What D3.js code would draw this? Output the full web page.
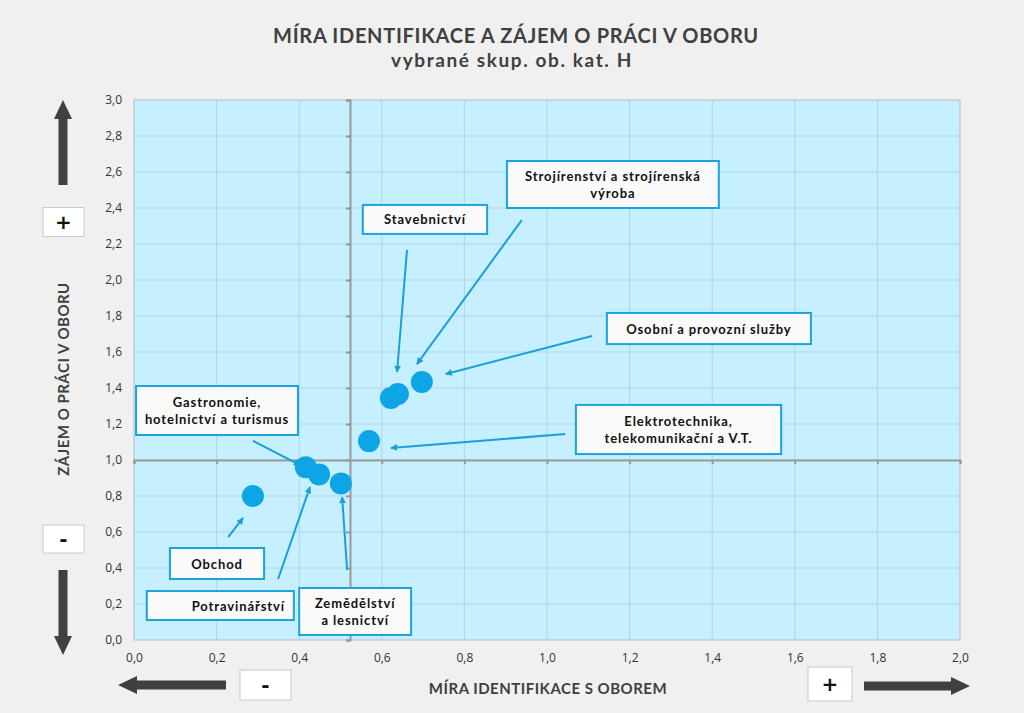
<!DOCTYPE html>
<html>
<head>
<meta charset="utf-8">
<script src="https://cdn.jsdelivr.net/npm/d3@7"></script>
<style>
  body { margin: 0; background: #f0f0f0; }
  svg { display: block; }
  .tick text { font-family: "Open Sans", sans-serif; font-size: 12px; fill: #333; }
  .title { font-family: Lato, sans-serif; font-weight: bold; fill: #404040; }
  .lbl { font-family: Lato, sans-serif; font-weight: bold; font-size: 13px; fill: #111; letter-spacing: 0.9px; }
</style>
</head>
<body>
<div id="chart"></div>
<script>
// data
const sectors = ['Obchod', 'Gastronomie', 'Potravinářství', 'Zemědělství', 'Elektrotechnika', 'Stavebnictví', 'Strojírenství', 'Osobní služby'];
const identification = [0.288, 0.416, 0.448, 0.501, 0.569, 0.622, 0.639, 0.697];
const interest = [0.80, 0.96, 0.92, 0.87, 1.105, 1.344, 1.367, 1.433];

const xTicks = [0, 0.2, 0.4, 0.6, 0.8, 1.0, 1.2, 1.4, 1.6, 1.8, 2.0];
const yTicks = [0, 0.2, 0.4, 0.6, 0.8, 1.0, 1.2, 1.4, 1.6, 1.8, 2.0, 2.2, 2.4, 2.6, 2.8, 3.0];
const refX = 0.523, refY = 1.0;

// callouts: text lines, box (x0, y0, x1, y1) and arrow (from -> to), in data units
const labels = [
    {lines: ['Stavebnictví'], box: [0.554, 2.417, 0.855, 2.256], dx: 0, from: [0.661, 2.167], to: [0.637, 1.489]},
    {lines: ['Strojírenství a strojírenská', 'výroba'], box: [0.903, 2.661, 1.416, 2.400], dx: 0, from: [0.939, 2.333], to: [0.685, 1.533]},
    {lines: ['Osobní a provozní služby'], box: [1.145, 1.817, 1.639, 1.644], dx: 0, from: [1.109, 1.689], to: [0.755, 1.478]},
    {lines: ['Elektrotechnika,', 'telekomunikační a V.T.'], box: [1.070, 1.306, 1.567, 1.033], dx: 0, from: [1.044, 1.144], to: [0.622, 1.067]},
    {lines: ['Gastronomie,', 'hotelnictví a turismus'], box: [0.005, 1.411, 0.397, 1.139], dx: 0, from: [0.288, 1.106], to: [0.402, 0.972]},
    {lines: ['Obchod'], box: [0.087, 0.511, 0.315, 0.339], dx: 0, from: [0.228, 0.572], to: [0.264, 0.678]},
    {lines: ['Potravinářství'], box: [0.031, 0.272, 0.387, 0.111], dx: 18, from: [0.349, 0.339], to: [0.426, 0.850]},
    {lines: ['Zemědělství', 'a lesnictví'], box: [0.400, 0.289, 0.671, 0.028], dx: 0, from: [0.516, 0.389], to: [0.504, 0.794]}
];

const width = 1024, height = 713;
const margin = {left: 134, right: 64, top: 100, bottom: 73};

const svg = d3.select('#chart').append('svg')
    .attr('width', width)
    .attr('height', height);

const x = d3.scaleLinear().domain([0, 2]).range([margin.left, width - margin.right]);
const y = d3.scaleLinear().domain([0, 3]).range([height - margin.bottom, margin.top]);

svg.append('defs').append('marker')
    .attr('id', 'head')
    .attr('viewBox', '0 0 10 10')
    .attr('refX', 9).attr('refY', 5)
    .attr('markerWidth', 7).attr('markerHeight', 7)
    .attr('markerUnits', 'userSpaceOnUse')
    .attr('orient', 'auto')
    .append('path')
    .attr('d', 'M0,0 L10,5 L0,10 z')
    .attr('fill', '#1a9fd8');

// titles
svg.append('text').attr('class', 'title')
    .attr('x', 516).attr('y', 43)
    .attr('text-anchor', 'middle').attr('font-size', 20)
    .attr('letter-spacing', 0.7)
    .text('MÍRA IDENTIFIKACE A ZÁJEM O PRÁCI V OBORU');
svg.append('text').attr('class', 'title')
    .attr('x', 512).attr('y', 67)
    .attr('text-anchor', 'middle').attr('font-size', 19)
    .attr('letter-spacing', 1.6)
    .text('vybrané skup. ob. kat. H');

// plot area
svg.append('rect')
    .attr('x', x(0)).attr('y', y(3))
    .attr('width', x(2) - x(0)).attr('height', y(0) - y(3))
    .attr('fill', '#c6efff');

svg.append('g').selectAll('line').data(xTicks.slice(1, -1)).enter().append('line')
    .attr('x1', d => x(d)).attr('x2', d => x(d))
    .attr('y1', y(0)).attr('y2', y(3))
    .attr('stroke', '#add6e2').attr('stroke-width', 1);
svg.append('g').selectAll('line').data(yTicks.slice(1, -1)).enter().append('line')
    .attr('x1', x(0)).attr('x2', x(2))
    .attr('y1', d => y(d)).attr('y2', d => y(d))
    .attr('stroke', '#add6e2').attr('stroke-width', 1);

svg.append('rect')
    .attr('x', x(0)).attr('y', y(3))
    .attr('width', x(2) - x(0)).attr('height', y(0) - y(3))
    .attr('fill', 'none').attr('stroke', '#b4bcc0');

// reference lines with small ticks
let fmt = d3.format('.1f');
let comma = d => fmt(d).replace('.', ',');

svg.append('g')
    .attr('transform', `translate(${x(refX)},0)`)
    .call(d3.axisLeft(y).tickValues(yTicks).tickSize(4).tickFormat(''))
    .call(g => g.selectAll('line,path').attr('stroke', '#999').attr('stroke-width', 2));
svg.append('g')
    .attr('transform', `translate(0,${y(refY)})`)
    .call(d3.axisBottom(x).tickValues(xTicks).tickSize(4).tickFormat(''))
    .call(g => g.selectAll('line,path').attr('stroke', '#999').attr('stroke-width', 2));

// axis labels
svg.append('g')
    .attr('transform', `translate(${x(0)},0)`)
    .call(d3.axisLeft(y).tickValues(yTicks).tickSize(0).tickPadding(12).tickFormat(comma))
    .call(g => g.select('.domain').remove());
svg.append('g')
    .attr('transform', `translate(0,${y(0)})`)
    .call(d3.axisBottom(x).tickValues(xTicks).tickSize(0).tickPadding(13).tickFormat(comma))
    .call(g => g.select('.domain').remove());

svg.append('text').attr('class', 'title')
    .attr('x', 548).attr('y', 694)
    .attr('text-anchor', 'middle').attr('font-size', 15)
    .attr('letter-spacing', 0.5)
    .text('MÍRA IDENTIFIKACE S OBOREM');
svg.append('text').attr('class', 'title')
    .attr('transform', `translate(69,379) rotate(-90)`)
    .attr('text-anchor', 'middle').attr('font-size', 15)
    .attr('letter-spacing', 0.5)
    .text('ZÁJEM O PRÁCI V OBORU');

// direction arrows and +/- boxes
const dark = '#404040';
function blockArrow(x1, y1, x2, y2) {
    let len = Math.hypot(x2 - x1, y2 - y1), a = Math.atan2(y2 - y1, x2 - x1) * 180 / Math.PI;
    let hl = 19, sw = 4.5, hw = 9;
    svg.append('path')
        .attr('transform', `translate(${x1},${y1}) rotate(${a})`)
        .attr('d', `M0,${-sw} L${len - hl},${-sw} L${len - hl},${-hw} L${len},0 L${len - hl},${hw} L${len - hl},${sw} L0,${sw} Z`)
        .attr('fill', dark);
}
blockArrow(63, 185, 63, 100);
blockArrow(63, 570, 63, 655);
blockArrow(226, 685, 118, 685);
blockArrow(864, 686, 970, 686);

function signBox(cx, cy, w, h, s) {
    svg.append('rect')
        .attr('x', cx - w / 2).attr('y', cy - h / 2)
        .attr('width', w).attr('height', h)
        .attr('fill', '#fff').attr('stroke', '#c8c8c8');
    svg.append('text')
        .attr('x', cx).attr('y', cy + 7)
        .attr('text-anchor', 'middle')
        .attr('font-family', 'DejaVu Sans, sans-serif').attr('font-weight', 'bold').attr('font-size', 20)
        .attr('fill', '#111')
        .text(s);
}
signBox(63.5, 222, 41, 29, '+');
signBox(63.5, 539, 41, 28, '-');
signBox(265.5, 685, 51, 30, '-');
signBox(830, 684, 44, 34, '+');

// callout arrows
svg.append('g').selectAll('line').data(labels).enter().append('line')
    .attr('x1', d => x(d.from[0])).attr('y1', d => y(d.from[1]))
    .attr('x2', d => x(d.to[0])).attr('y2', d => y(d.to[1]))
    .attr('stroke', '#1a9fd8').attr('stroke-width', 2)
    .attr('marker-end', 'url(#head)');

// points
svg.append('g').selectAll('circle').data(sectors).enter().append('circle')
    .attr('cx', (d, i) => x(identification[i]))
    .attr('cy', (d, i) => y(interest[i]))
    .attr('r', 11)
    .attr('fill', '#0ea5e6');

// callout boxes
let boxes = svg.append('g').selectAll('g').data(labels).enter().append('g');
boxes.append('rect')
    .attr('x', d => x(d.box[0])).attr('y', d => y(d.box[1]))
    .attr('width', d => x(d.box[2]) - x(d.box[0]))
    .attr('height', d => y(d.box[3]) - y(d.box[1]))
    .attr('fill', '#fafafa').attr('stroke', '#1aa3dc').attr('stroke-width', 2);
boxes.each(function(d) {
    let cx = (x(d.box[0]) + x(d.box[2])) / 2 + d.dx;
    let cy = (y(d.box[1]) + y(d.box[3])) / 2;
    let n = d.lines.length;
    let t = d3.select(this).append('text').attr('class', 'lbl').attr('text-anchor', 'middle');
    d.lines.forEach((s, i) => {
        t.append('tspan').attr('x', cx).attr('y', cy + 5 + (i - (n - 1) / 2) * 17).text(s);
    });
});
</script>
</body>
</html>
